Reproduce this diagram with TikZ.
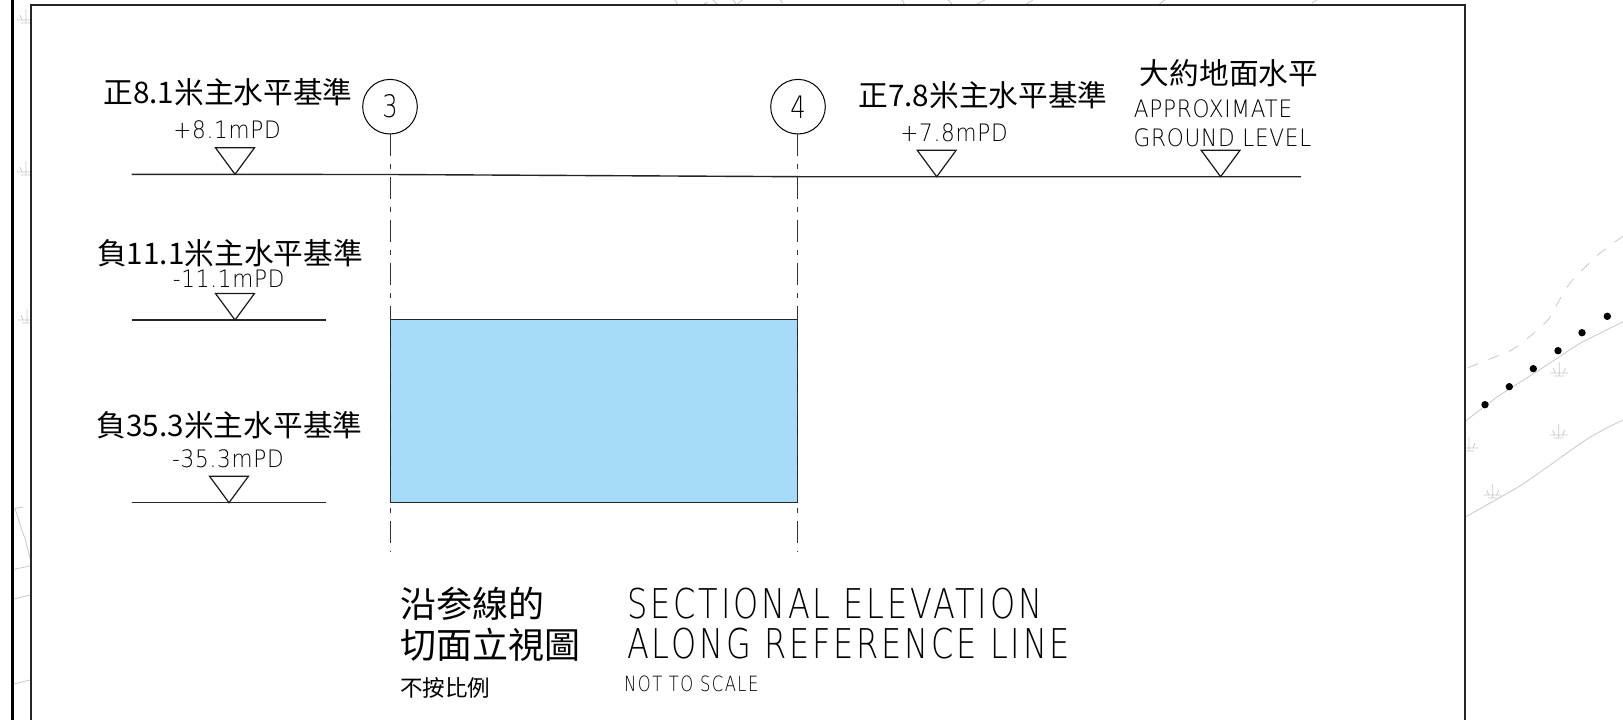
\documentclass[tikz,border=0pt]{standalone}
\usepackage{fontspec}
\newfontfamily\cjkfont{Noto Sans CJK TC}
\newfontfamily\isofont[FakeStretch=0.9,LetterSpace=3]{DejaVu Sans ExtraLight}
\newfontfamily\isotitle[FakeStretch=0.78,LetterSpace=7]{DejaVu Sans ExtraLight}
\definecolor{panelblue}{HTML}{A6DCF9}
\definecolor{sitegrey}{HTML}{C8C8C8}
\tikzstyle{cjklabel}=[anchor=base,inner sep=0pt,font=\cjkfont\fontsize{29.7}{31}\selectfont]
\tikzstyle{cjktitle}=[anchor=base west,inner sep=0pt,font=\cjkfont\fontsize{36}{37}\selectfont]
\tikzstyle{cjksmall}=[anchor=base west,inner sep=0pt,font=\cjkfont\fontsize{22.5}{24}\selectfont]
\tikzstyle{isolabel}=[anchor=base,inner sep=0pt,font=\isofont\fontsize{24}{25}\selectfont]
\tikzstyle{isotitle}=[anchor=base west,inner sep=0pt,font=\isotitle\fontsize{41}{42}\selectfont]
\tikzstyle{isosmall}=[anchor=base west,inner sep=0pt,font=\isotitle\fontsize{21}{22}\selectfont]
\tikzstyle{gridball}=[circle,draw=black,line width=1pt,minimum size=54.6pt,inner sep=0pt,font=\isotitle\fontsize{31}{32}\selectfont]
\tikzstyle{levelline}=[line width=1.4pt,draw=black!85]
\tikzstyle{gridline}=[line width=1pt,draw=black!80,dash pattern=on 22pt off 8pt on 5pt off 8pt]
\tikzstyle{siteline}=[line width=0.8pt,draw=sitegrey]
\tikzset{
  levelmark/.pic={\draw[line width=1.2pt,draw=black!90] (0,0) -- (-19.5,-26.5) -- (19.5,-26.5) -- cycle;},
  grasstuft/.pic={\draw[siteline] (-9,0) -- (9,0) (-5,3) -- (5,3) (0,3) -- (0,-11) (-4,0) -- (-6,-5) (4,0) -- (6,-5);}
}

\begin{document}
\begin{tikzpicture}[x=1pt,y=-1pt]
  \clip (0,0) rectangle (1623,720);

  % SITE PART

  \draw[siteline] (1466,420.7) .. controls (1480,410) and (1490,402) .. (1500,395)
    .. controls (1520,382) and (1535,373) .. (1550,363)
    .. controls (1565,353) and (1575,346) .. (1583,341.7) -- (1623,321.7);
  \draw[siteline] (1466,516.7) -- (1516.7,488) .. controls (1540,473) and (1565,454) .. (1583,441.7)
    .. controls (1592,436) and (1600,431) .. (1623,420);
  \draw[siteline,dash pattern=on 11pt off 11pt] (1468,367.7) -- (1510,351)
    .. controls (1522,344) and (1538,330) .. (1548,320)
    .. controls (1556,308) and (1562,293) .. (1570,283)
    .. controls (1580,272) and (1590,262) .. (1600,253) -- (1623,236);
  \foreach \dotx/\doty in {1485/404.7,1509.3/386.7,1533.3/368.7,1558/350.7,1582/332.7,1607.3/316.3}
    \fill[black] (\dotx,\doty) circle (3.7pt);
  \foreach \grassx/\grassy in {1559.3/373,1558.7/435,1492.7/495,1469/448,26/20,26/172,27/320}
    \pic at (\grassx,\grassy) {grasstuft};
  \draw[siteline] (22.7,507.3) -- (15,508.3) -- (22.7,533) -- (25,538) -- (30,558);
  \draw[siteline] (14,569.3) -- (30,566) (14,599) -- (30,595) (14,684) -- (30,680);
  \draw[siteline] (675,0) -- (678,5) (702,5) -- (708,2) (713,0) -- (718,5) (733,0) -- (737,5)
    (737,5) -- (742,0) (780,0) -- (783,3) (902,0) -- (905,5) (948,0) -- (953,5) (975,5) -- (985,0)
    (1025,5) -- (1033,0) (1158,5) -- (1165,0) (1312,3) -- (1317,0);

  % SHEET PART

  \draw[line width=2.6pt,draw=black] (12.4,-5) -- (12.4,725);
  \draw[line width=1.8pt,draw=black!85,fill=white] (31.2,5.3) rectangle (1465.3,740);

  % GRID PART

  \node[gridball] (grid3) at (390,106.7) {3};
  \node[gridball] (grid4) at (798,106.7) {4};
  \coordinate (grid3end) at (390,552);
  \coordinate (grid4end) at (797.5,552);

  \coordinate (panelnw) at (390,319.5);
  \coordinate (panelse) at (797.5,502.7);
  \draw[line width=1pt,draw=black!85,fill=panelblue] (panelnw) rectangle (panelse);

  \path[gridline] (grid3) ++(0,27.3) edge (grid3end);
  \path[gridline] (grid4) ++(-0.5,27.3) edge (grid4end);

  % LEVEL PART

  \coordinate (groundleft) at (131.5,174.3);
  \coordinate (groundbend) at (390,174.5);
  \coordinate (groundflat) at (800,176.7);
  \coordinate (groundright) at (1301,176.7);
  \draw[levelline] (groundleft) -- (groundbend) -- (groundflat) -- (groundright);

  \coordinate (midleft) at (131.5,320);
  \coordinate (midright) at (326,320);
  \path[levelline] (midleft) edge (midright);

  \coordinate (lowleft) at (131.5,502.7);
  \coordinate (lowright) at (326,502.7);
  \path[levelline] (lowleft) edge (lowright);

  \pic at (235,174.3) {levelmark};
  \pic at (235,320) {levelmark};
  \pic at (229,502.7) {levelmark};
  \pic at (936.7,176.7) {levelmark};
  \pic at (1220.6,176.7) {levelmark};

  % LABEL PART

  \node[cjklabel] (upperzh) at (228,103.5) {正8.1米主水平基準};
  \node[isolabel] (upperen) at (227,138.7) {+8.1mPD};
  \node[cjklabel] (midzh) at (230,264) {負11.1米主水平基準};
  \node[isolabel] (miden) at (228.7,287) {-11.1mPD};
  \node[cjklabel] (lowzh) at (229.6,436.7) {負35.3米主水平基準};
  \node[isolabel] (lowen) at (228,467) {-35.3mPD};
  \node[cjklabel] (rightzh) at (983,106) {正7.8米主水平基準};
  \node[isolabel] (righten) at (954,141.7) {+7.8mPD};
  \node[cjklabel] (groundzh) at (1229,84.5) {大約地面水平};
  \node[isolabel] (grounden) at (1213,117) {APPROXIMATE};
  \node[isolabel] (groundtwo) at (1222.5,146) {GROUND LEVEL};

  % TITLE PART

  \node[cjktitle] (titlezh) at (400,617) {沿参線的};
  \node[cjktitle] (titlezhtwo) at (400,658.5) {切面立視圖};
  \node[cjksmall] (scalezh) at (400,696) {不按比例};
  \node[isotitle] (titleen) at (627,618) {SECTIONAL ELEVATION};
  \node[isotitle] (titleentwo) at (627,658) {ALONG REFERENCE LINE};
  \node[isosmall] (scaleen) at (624,691) {NOT TO SCALE};
\end{tikzpicture}
\end{document}
